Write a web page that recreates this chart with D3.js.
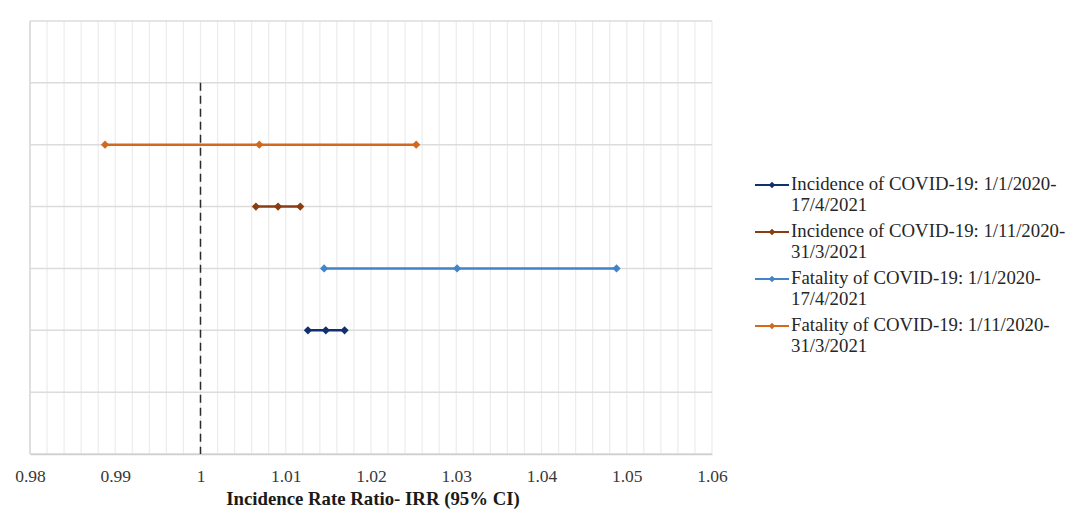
<!DOCTYPE html>
<html>
<head>
<meta charset="utf-8">
<script src="https://cdn.jsdelivr.net/npm/d3@7"></script>
<style>
  body { margin: 0; background: #fff; }
  svg { display: block; }
</style>
</head>
<body>
<svg id="chart" width="1088" height="521"></svg>
<script>
// ---- Data ----
const seriesNames = [
  ["Incidence of COVID-19: 1/1/2020-", "17/4/2021"],
  ["Incidence of COVID-19: 1/11/2020-", "31/3/2021"],
  ["Fatality of COVID-19: 1/1/2020-", "17/4/2021"],
  ["Fatality of COVID-19: 1/11/2020-", "31/3/2021"]
];
const seriesColors = ["#13306e", "#8a3d12", "#4283c9", "#d2691f"];
const seriesRow = [2, 4, 3, 5];      // vertical position (y value)
const lowerCI = [1.0126, 1.0065, 1.0145, 0.9888];
const estimate = [1.0147, 1.0091, 1.0301, 1.0069];
const upperCI = [1.0169, 1.0117, 1.0488, 1.0253];
const xTicks = [0.98, 0.99, 1, 1.01, 1.02, 1.03, 1.04, 1.05, 1.06];
const refLine = { x: 1, y0: 0, y1: 6 };
const xTitle = "Incidence Rate Ratio- IRR (95% CI)";

// ---- Layout ----
const svg = d3.select("#chart");
const pLeft = 30, pRight = 712, pTop = 21, pBottom = 454;
const x = d3.scaleLinear().domain([0.98, 1.06]).range([pLeft, pRight]);
const y = d3.scaleLinear().domain([0, 7]).range([pBottom, pTop]);
const serif = "'Liberation Serif', 'Times New Roman', serif";

// vertical minor gridlines every 0.002
const vGrid = d3.range(0, 41).map(i => 0.98 + i * 0.002);
svg.append("g").selectAll("line").data(vGrid).join("line")
  .attr("x1", d => x(d)).attr("x2", d => x(d))
  .attr("y1", y(0)).attr("y2", y(7))
  .attr("stroke", "#ececec").attr("stroke-width", 1.2);

// horizontal gridlines
svg.append("g").selectAll("line").data(d3.range(0, 8)).join("line")
  .attr("x1", pLeft).attr("x2", pRight)
  .attr("y1", d => y(d)).attr("y2", d => y(d))
  .attr("stroke", "#dcdcdc").attr("stroke-width", 1.5);

// plot border left
svg.append("line").attr("x1", pLeft).attr("x2", pLeft).attr("y1", y(0)).attr("y2", y(7))
  .attr("stroke", "#d9d9d9").attr("stroke-width", 1.5);

// x axis
const xAxis = d3.axisBottom(x).tickValues(xTicks).tickSize(0)
  .tickFormat(d => String(+d.toFixed(2)));
const gx = svg.append("g").attr("transform", `translate(0,${pBottom})`).call(xAxis);
gx.attr("font-family", serif);
gx.select(".domain").attr("stroke", "#d0d0d0").attr("stroke-width", 1.5);
gx.selectAll("text")
  .attr("font-family", serif)
  .attr("font-size", 17.5).attr("fill", "#383838").attr("dy", "0").attr("y", 28);

svg.append("text")
  .attr("x", x(1.02) + 2).attr("y", 505)
  .attr("text-anchor", "middle")
  .attr("font-family", serif)
  .attr("font-weight", "bold").attr("font-size", 18.8).attr("fill", "#1a1a1a")
  .text(xTitle);

// reference dashed line
svg.append("line")
  .attr("x1", x(refLine.x)).attr("x2", x(refLine.x))
  .attr("y1", y(refLine.y1)).attr("y2", y(refLine.y0))
  .attr("stroke", "#2b2b2b").attr("stroke-width", 1.5)
  .attr("stroke-dasharray", "8,5");

// series
seriesNames.forEach((nm, i) => {
  const g = svg.append("g");
  const vals = [lowerCI[i], estimate[i], upperCI[i]];
  g.append("line")
    .attr("x1", x(lowerCI[i])).attr("x2", x(upperCI[i]))
    .attr("y1", y(seriesRow[i])).attr("y2", y(seriesRow[i]))
    .attr("stroke", seriesColors[i]).attr("stroke-width", 2.5);
  g.selectAll("path").data(vals).join("path")
    .attr("d", d3.symbol().type(d3.symbolSquare).size(34))
    .attr("transform", d => `translate(${x(d)},${y(seriesRow[i])}) rotate(45)`)
    .attr("fill", seriesColors[i]);
});

// legend
const lg = svg.append("g");
seriesNames.forEach((nm, i) => {
  const ly = 185 + i * 47;
  lg.append("line").attr("x1", 755).attr("x2", 789).attr("y1", ly).attr("y2", ly)
    .attr("stroke", seriesColors[i]).attr("stroke-width", 2);
  lg.append("path")
    .attr("d", d3.symbol().type(d3.symbolSquare).size(22))
    .attr("transform", `translate(772,${ly}) rotate(45)`)
    .attr("fill", seriesColors[i]);
  const t = lg.append("text")
    .attr("font-family", serif)
    .attr("font-size", 18.8).attr("fill", "#262626");
  t.append("tspan").attr("x", 791).attr("y", ly + 5).text(nm[0]);
  t.append("tspan").attr("x", 791).attr("y", ly + 25.5).text(nm[1]);
});
</script>
</body>
</html>
